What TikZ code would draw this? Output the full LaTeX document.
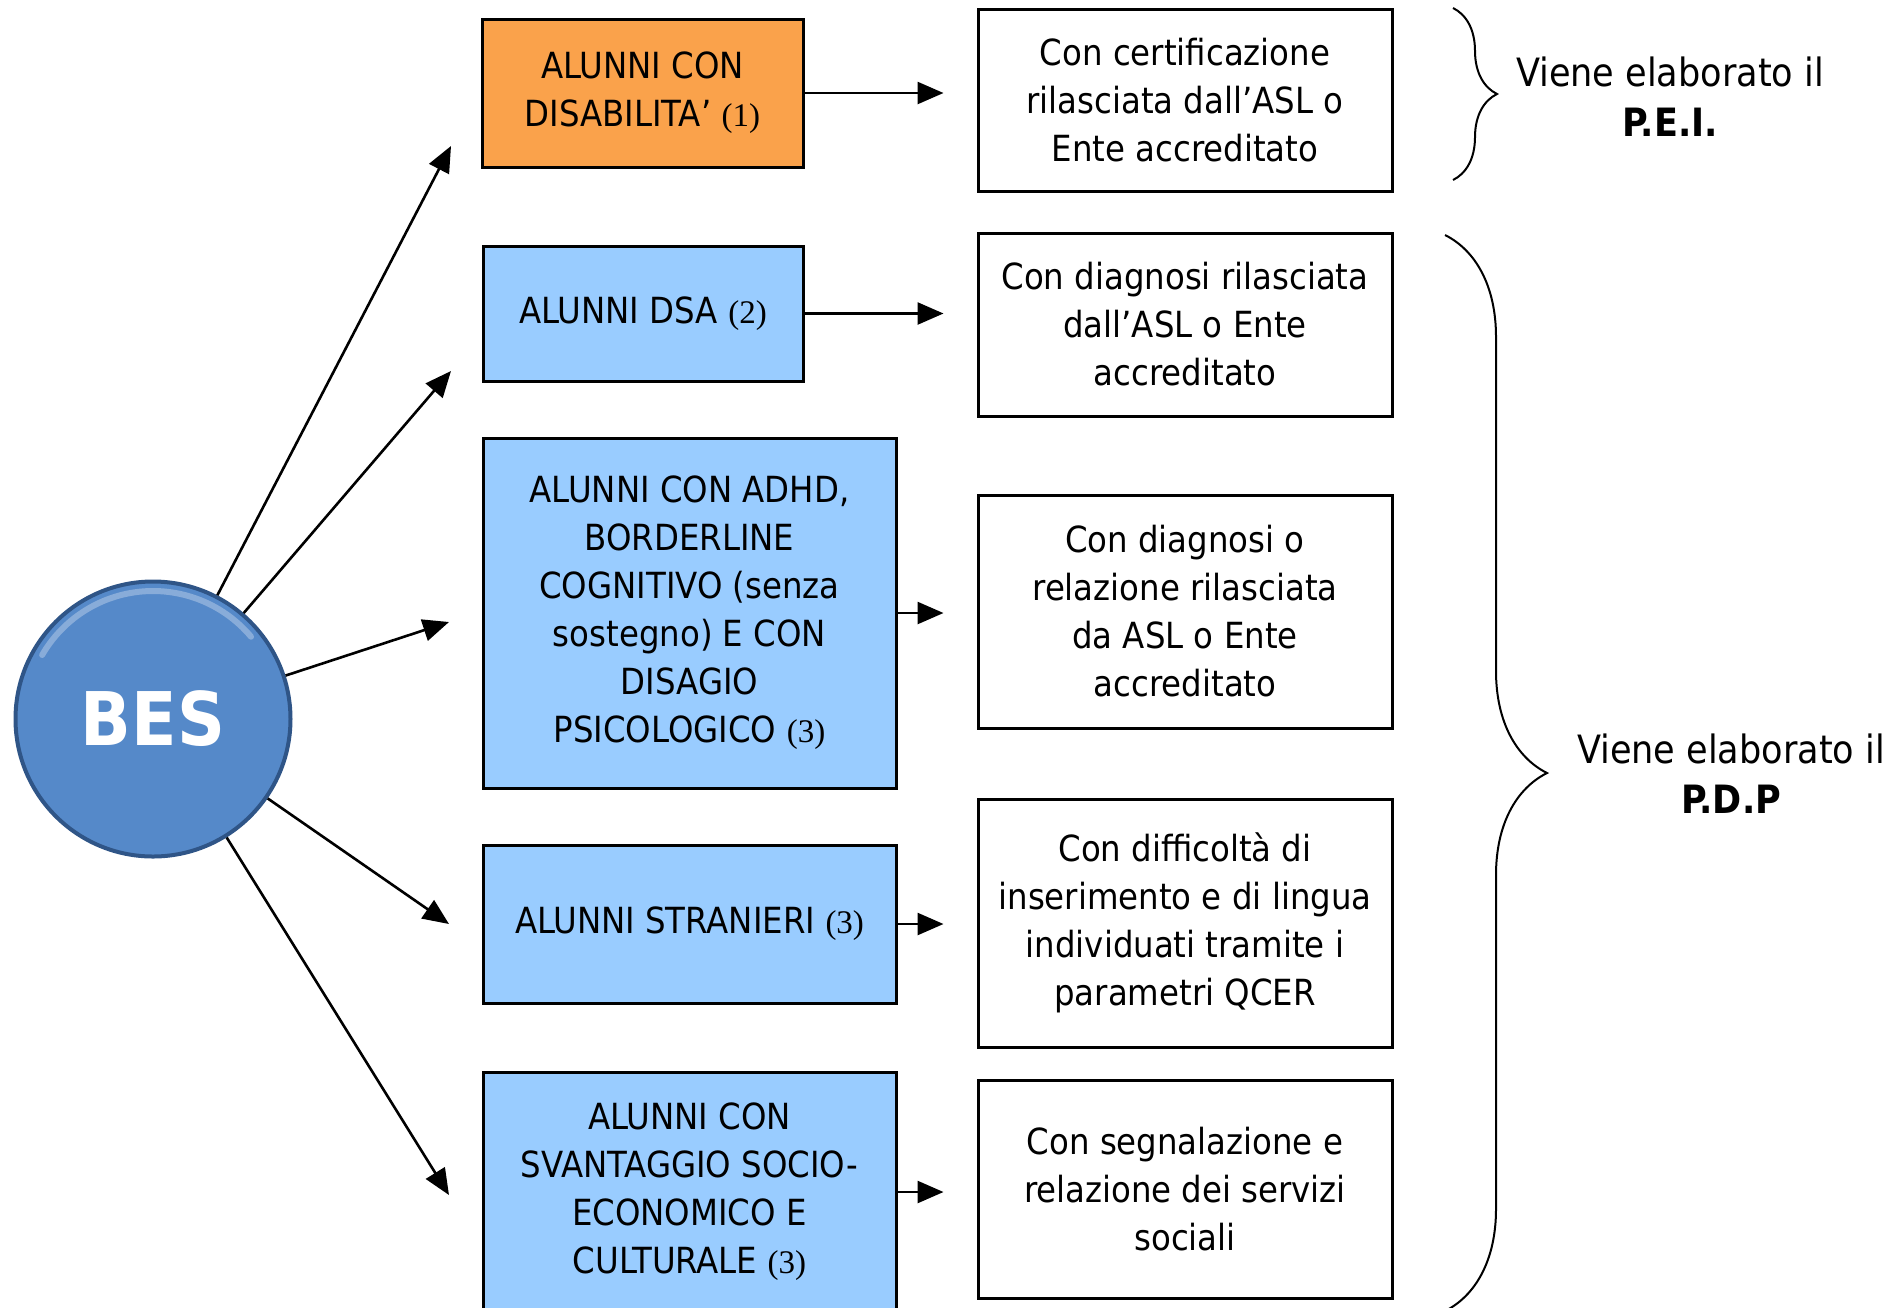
\documentclass[tikz,border=0pt]{standalone}
\usepackage{fontspec}
\setmainfont{DejaVu Sans Condensed}
\newfontfamily\notefont{Liberation Serif}
\usetikzlibrary{arrows.meta, positioning, calc, decorations.pathreplacing}
\definecolor{besblue}{HTML}{5589C9}
\definecolor{besedge}{HTML}{2F5587}
\definecolor{besorange}{HTML}{FAA24B}
\definecolor{beslight}{HTML}{99CCFF}
\newcommand{\nota}[1]{{\notefont\fontsize{16.5}{16.5}\selectfont(#1)}}

\begin{document}
\begin{tikzpicture}[x=0.5pt, y=-0.5pt,
  catbox/.style={draw=black, line width=1.5pt, align=center, inner sep=0pt,
    font=\fontsize{18}{24}\selectfont},
  infobox/.style={draw=black, fill=white, line width=1.5pt, align=center,
    inner sep=0pt, minimum width=207pt, font=\fontsize{18}{24}\selectfont},
  link/.style={line width=1.3pt, -{Triangle[length=13pt,width=11pt]}},
  bracket/.style={decorate, line width=1pt}]
  \useasboundingbox (0,0) rectangle (1893,1307);
  \clip (0,0) rectangle (1893,1307);

  % BES
  \node[circle, minimum size=137.5pt, fill=besblue, draw=besedge, line width=2pt,
    text=white, font=\bfseries\fontsize{37}{37}\selectfont] (bes) at (153,719) {BES};
  \draw[besblue!70!white, line width=3pt, line cap=round]
    ($(bes.center)+(40:64pt)$) arc[start angle=40, end angle=150, radius=64pt];

  % Categorie di alunni
  \node[catbox, fill=besorange, minimum width=160.5pt, minimum height=74pt]
    (dis) at (642.5,93) {ALUNNI CON\\DISABILITA’ \nota{1}};
  \node[catbox, fill=beslight, minimum width=160pt, minimum height=67.5pt]
    (dsa) at (643,313.5) {ALUNNI DSA \nota{2}};
  \node[catbox, fill=beslight, minimum width=206.5pt, minimum height=175pt]
    (adhd) at (689.5,613) {ALUNNI CON ADHD,\\BORDERLINE\\COGNITIVO (senza\\sostegno) E CON\\DISAGIO\\PSICOLOGICO \nota{3}};
  \node[catbox, fill=beslight, minimum width=206.5pt, minimum height=79pt]
    (stra) at (689.5,924) {ALUNNI STRANIERI \nota{3}};
  \node[catbox, fill=beslight, minimum width=206.5pt, minimum height=120pt]
    (svan) at (689.5,1192) {ALUNNI CON\\SVANTAGGIO SOCIO-\\ECONOMICO E\\CULTURALE \nota{3}};

  % Documentazione
  \node[infobox, minimum height=91pt] (cert) at (1185,100)
    {Con certificazione\\rilasciata dall’ASL o\\Ente accreditato};
  \node[infobox, minimum height=91.5pt] (diag) at (1185,324.5)
    {Con diagnosi rilasciata\\dall’ASL o Ente\\accreditato};
  \node[infobox, minimum height=116.5pt] (rel) at (1185,611.5)
    {Con diagnosi o\\relazione rilasciata\\da ASL o Ente\\accreditato};
  \node[infobox, minimum height=124pt] (qcer) at (1185,923)
    {Con difficoltà di\\inserimento e di lingua\\individuati tramite i\\parametri QCER};
  \node[infobox, minimum height=109pt] (soc) at (1185,1189)
    {Con segnalazione e\\relazione dei servizi\\sociali};

  % Frecce dal BES
  \coordinate (t1) at (451,146);
  \coordinate (t2) at (451,371);
  \coordinate (t3) at (449,622);
  \coordinate (t4) at (449,924);
  \coordinate (t5) at (449,1195);
  \foreach \t in {t1,t2,t3,t4,t5}
    \draw[link] (bes) -- (\t);

  % Frecce verso la documentazione
  \foreach \a/\b in {dis/cert, dsa/diag, adhd/rel, stra/qcer, svan/soc}
    \draw[link, shorten >=16.5pt] (\a.east) -- (\a.east -| \b.west);

  % Parentesi
  \draw[bracket, decoration={brace, amplitude=22pt}] (1453,8) -- (1453,180);
  \draw[bracket, decoration={brace, amplitude=51pt}] (1445,235) -- (1445,1311);
  \node[font=\fontsize{19.5}{25}\selectfont, align=center] (pei) at (1670,97)
    {Viene elaborato il\\\textbf{P.E.I.}};
  \node[font=\fontsize{19.5}{25}\selectfont, align=center] (pdp) at (1731,774)
    {Viene elaborato il\\\textbf{P.D.P}};
\end{tikzpicture}
\end{document}
